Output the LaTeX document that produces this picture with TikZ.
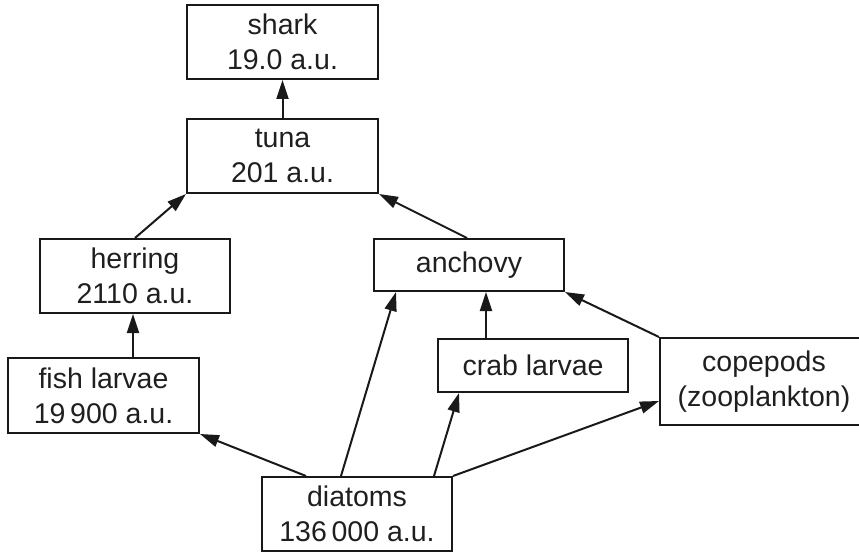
\documentclass[tikz,border=0pt]{standalone}
\usepackage{fontspec}
\setmainfont{Liberation Sans}
\usetikzlibrary{arrows.meta}
\begin{document}
\begin{tikzpicture}[x=1pt,y=-1pt,
  lbl/.style={font=\fontsize{28.5}{35}\selectfont,text=black!88,align=center},
  box/.style={lbl,draw=black!90,line width=2pt,rectangle,inner sep=0pt},
  conn/.style={line width=2pt,draw=black!90,-{Triangle[length=19pt,width=12pt]}}]
\useasboundingbox (0,0) rectangle (859,553);
\node[box,minimum width=191pt,minimum height=74pt] (shark) at (282.5,42) {shark\\19.0 a.u.};
\node[box,minimum width=191pt,minimum height=74pt] (tuna) at (282.5,156) {tuna\\201 a.u.};
\node[box,minimum width=190pt,minimum height=74pt] (herring) at (135,276) {herring\\2110 a.u.};
\node[box,minimum width=190pt,minimum height=52pt] (anchovy) at (469,265) {anchovy};
\node[box,minimum width=190pt,minimum height=53pt] (crab) at (533,365.5) {crab larvae};
\node[box,minimum width=201pt,minimum height=87pt] (cope) at (760.5,381.5) {};
\node[lbl] (copetext) at (764,381.5) {copepods\\(zooplankton)};
\node[box,minimum width=191pt,minimum height=75pt] (fish) at (103.5,395.5) {fish larvae\\19\,900 a.u.};
\node[box,minimum width=190pt,minimum height=74pt] (diat) at (357,514) {diatoms\\136\,000 a.u.};

\coordinate (hs) at ([xshift=-2pt]herring.south);
\draw[conn] (tuna.north) -- (shark.south);
\draw[conn] (herring.north) -- (tuna.south west);
\draw[conn] ([xshift=-2pt]anchovy.north) -- (tuna.south east);
\draw[conn] ([xshift=49pt]crab.north west) -- ([xshift=113pt]anchovy.south west);
\draw[conn] (cope.north west) -- (anchovy.south east);
\draw[conn] (fish.north -| hs) -- (hs);
\draw[conn] ([xshift=45pt]diat.north west) -- (fish.south east);
\draw[conn] ([xshift=80pt]diat.north west) -- ([xshift=23pt]anchovy.south west);
\draw[conn] ([xshift=173pt]diat.north west) -- ([xshift=22pt]crab.south west);
\draw[conn] (diat.north east) -- ([yshift=25pt]cope.south west);
\end{tikzpicture}
\end{document}
